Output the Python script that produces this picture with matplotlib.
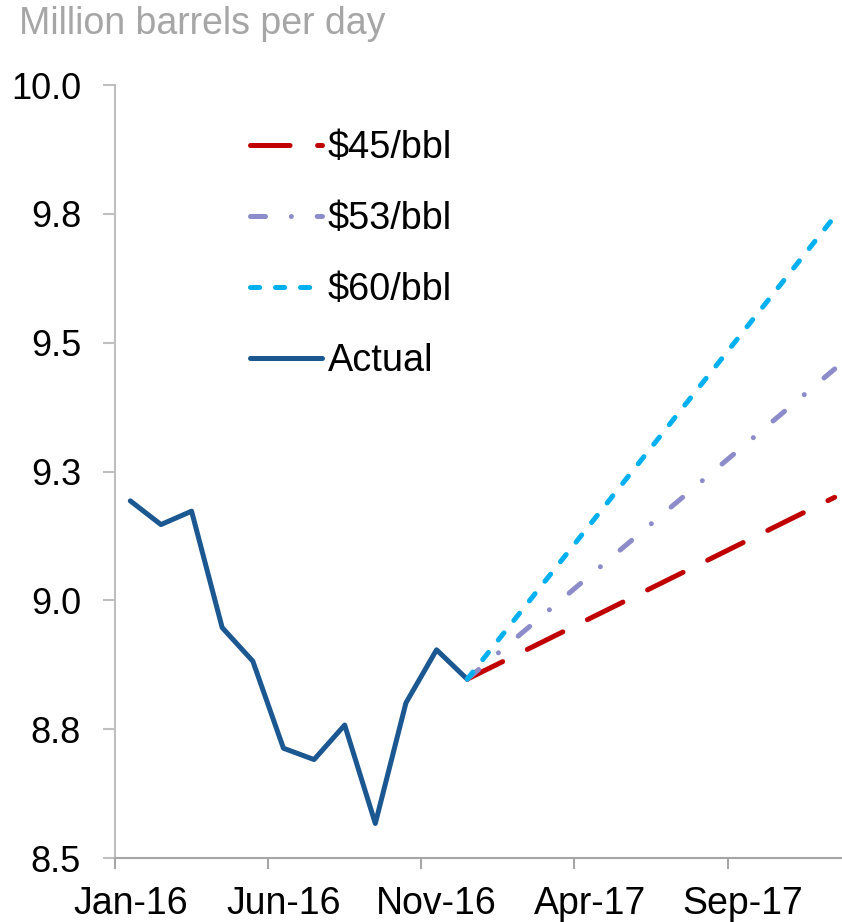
import matplotlib
matplotlib.use("Agg")
from matplotlib import pyplot as plt

plt.rcParams["font.family"] = ["Liberation Sans", "DejaVu Sans"]

MONTHS = ["Jan-16", "Feb-16", "Mar-16", "Apr-16", "May-16", "Jun-16",
          "Jul-16", "Aug-16", "Sep-16", "Oct-16", "Nov-16", "Dec-16",
          "Jan-17", "Feb-17", "Mar-17", "Apr-17", "May-17", "Jun-17",
          "Jul-17", "Aug-17", "Sep-17", "Oct-17", "Nov-17", "Dec-17"]

actual = [9.193, 9.147, 9.173, 8.947, 8.882, 8.713,
          8.691, 8.758, 8.567, 8.801, 8.904, 8.847]

forecast_months = ["Dec-16", "Dec-17"]
price_45 = [8.847, 9.200]
price_53 = [8.847, 9.449]
price_60 = [8.847, 9.745]

y_ticks = [8.5, 8.75, 9.0, 9.25, 9.5, 9.75, 10.0]
y_labels = ["8.5", "8.8", "9.0", "9.3", "9.5", "9.8", "10.0"]
x_label_months = ["Jan-16", "Jun-16", "Nov-16", "Apr-17", "Sep-17"]

AXIS_GRAY = "#A6A6A6"
SPINE_GRAY = "#BFBFBF"
LW = 3.6


def main():
    fig = plt.figure(figsize=(8.42, 9.22), dpi=100)
    ax = fig.add_axes([115 / 842, 64 / 922, 735 / 842, 773 / 922])

    xa = [MONTHS.index(m) for m in MONTHS[:len(actual)]]
    xf = [MONTHS.index(m) for m in forecast_months]

    h_act, = ax.plot(xa, actual, color="#1B5790", lw=LW,
                     solid_capstyle="round", solid_joinstyle="round",
                     label="Actual", zorder=2)
    # dash patterns are in units of line width
    s = 3.0 / LW
    h45, = ax.plot(xf, price_45, color="#C00000", lw=LW,
                   dash_capstyle="round", label="$45/bbl", zorder=3)
    h45.set_dashes([9.5 * s, 6.6 * s])
    h53, = ax.plot(xf, price_53, color="#8C8CCB", lw=LW,
                   dash_capstyle="round", label="$53/bbl", zorder=3)
    h53.set_dashes([3.6 * s, 6.2 * s, 0.01, 6.2 * s])
    h60, = ax.plot(xf, price_60, color="#00B0F0", lw=LW,
                   dash_capstyle="round", label="$60/bbl", zorder=3)
    h60.set_dashes([2.2 * s, 3.8 * s])

    ax.set_xlim(-0.5, len(MONTHS) - 0.5)
    ax.set_ylim(8.5, 10.0)

    ax.set_yticks(y_ticks)
    ax.set_yticklabels(y_labels)
    ax.tick_params(axis="y", length=8.4, width=1.5, color=SPINE_GRAY,
                   pad=16, labelsize=26)

    # tick marks between categories, labels on the categories
    ax.set_xticks([MONTHS.index(m) - 0.5 for m in x_label_months])
    ax.set_xticklabels([])
    ax.set_xticks([MONTHS.index(m) for m in x_label_months], minor=True)
    ax.set_xticklabels(x_label_months, minor=True)
    ax.tick_params(axis="x", which="major", length=8, width=1.5, color=AXIS_GRAY)
    ax.tick_params(axis="x", which="minor", length=0, pad=20, labelsize=27)

    for side in ["top", "right"]:
        ax.spines[side].set_visible(False)
    ax.spines["left"].set_color(SPINE_GRAY)
    ax.spines["left"].set_linewidth(1.5)
    ax.spines["bottom"].set_color(AXIS_GRAY)
    ax.spines["bottom"].set_linewidth(1.5)

    fig.text(19 / 842, 1 - 34 / 922, "Million barrels per day", fontsize=27,
             color=AXIS_GRAY, va="baseline", ha="left")

    fig.legend(handles=[h45, h53, h60, h_act], loc="upper left",
               bbox_to_anchor=(250 / 842, 1 - 130.5 / 922),
               bbox_transform=fig.transFigure, frameon=False, fontsize=27.3,
               handlelength=1.9, handletextpad=0.15, labelspacing=0.92,
               borderpad=0, borderaxespad=0)

    fig.savefig("out.png", dpi=100)


if __name__ == "__main__": main()
